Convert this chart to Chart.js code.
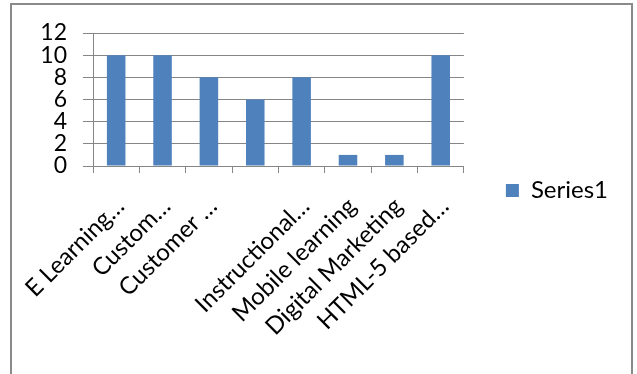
<!DOCTYPE html>
<html>
<head>
<meta charset="utf-8">
<script src="https://cdn.jsdelivr.net/npm/chart.js@4/dist/chart.umd.min.js"></script>
<style>
  html, body { margin: 0; padding: 0; background: #ffffff; overflow: hidden; }
  #wrap { position: relative; width: 637px; height: 374px; }
  #frame { position: absolute; left: 10px; top: 3px; width: 623px; height: 400px; border: 2px solid #8a8a8a; box-sizing: border-box; }
  #c { position: absolute; left: 0; top: 0; }
</style>
</head>
<body>
<div id="wrap">
  <div id="frame"></div>
  <canvas id="c" width="637" height="374"></canvas>
</div>
<script>
const categories = ["E Learning\u2026", "Custom\u2026", "Customer \u2026", "", "Instructional\u2026", "Mobile learning", "Digital Marketing", "HTML-5 based\u2026"];
const series1 = [10, 10, 8, 6, 8, 1, 1, 10];
const seriesName = "Series1";
const yTicks = [0, 2, 4, 6, 8, 10, 12];

const FONT = "Lato";
const gridColor = "#868686";

new Chart(document.getElementById("c"), {
  type: "bar",
  data: {
    labels: categories,
    datasets: [{
      label: seriesName,
      data: series1,
      backgroundColor: "#4F81BD",
      borderWidth: 0,
      categoryPercentage: 1.0,
      barPercentage: 0.4
    }]
  },
  options: {
    responsive: false,
    animation: false,
    devicePixelRatio: 1,
    layout: { padding: { left: 0, top: 33, right: 19, bottom: 26 } },
    plugins: {
      tooltip: { enabled: false },
      legend: {
        position: "right",
        align: "center",
        labels: {
          color: "#000000",
          font: { family: FONT, size: 24 },
          boxWidth: 13,
          boxHeight: 13,
          padding: 42
        }
      }
    },
    scales: {
      x: {
        afterFit: (s) => { s.height = 182; },
        grid: { display: true, drawOnChartArea: false, drawTicks: true, tickLength: 7, color: gridColor, offset: true },
        border: { display: true, color: gridColor },
        ticks: {
          autoSkip: false,
          maxRotation: 45,
          minRotation: 45,
          padding: 19,
          labelOffset: 4,
          color: "#000000",
          font: { family: FONT, size: 24 }
        }
      },
      y: {
        min: 0,
        max: 12,
        afterFit: (s) => { s.width = 93; },
        afterBuildTicks: (s) => { s.ticks = yTicks.map(v => ({ value: v })); },
        grid: { color: gridColor, tickLength: 10, drawTicks: true },
        border: { display: true, color: gridColor },
        ticks: {
          autoSkip: false,
          padding: 16,
          color: "#000000",
          font: { family: FONT, size: 23 }
        }
      }
    }
  }
});
</script>
</body>
</html>
